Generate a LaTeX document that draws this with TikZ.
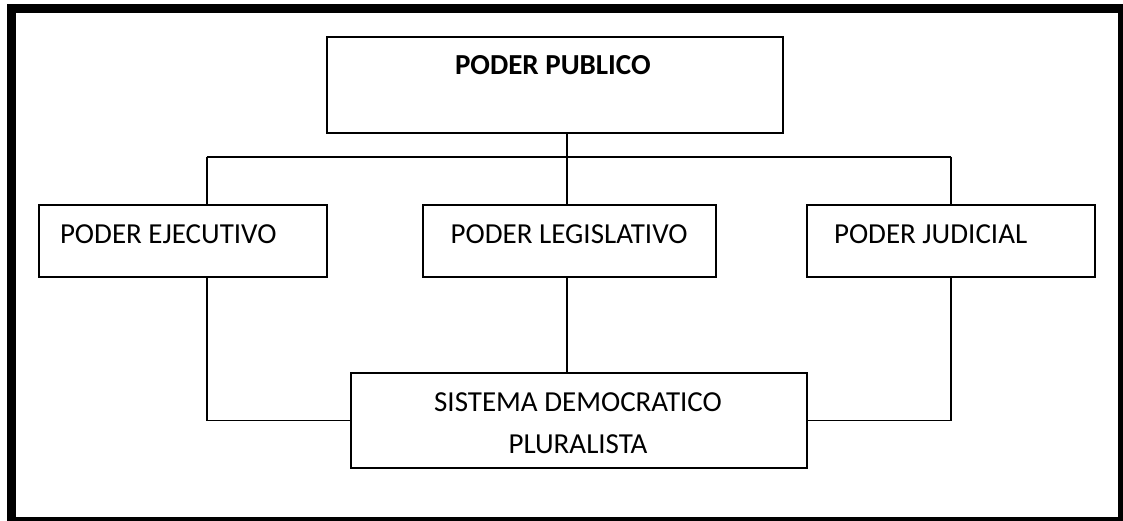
\documentclass[tikz,border=0pt]{standalone}
\usepackage{fontspec}
\setmainfont{Carlito}
\begin{document}
\begin{tikzpicture}[x=1pt,y=-1pt,
  boxstyle/.style={draw=black,line width=1.8pt,inner sep=0pt,outer sep=0pt,minimum width=#1},
  wire/.style={draw=black,line width=1.8pt},
  lbl/.style={inner sep=0pt,outer sep=0pt,anchor=base west,font=\fontsize{29}{35}\selectfont},
  clbl/.style={inner sep=0pt,outer sep=0pt,anchor=base,font=\fontsize{29}{35}\selectfont}]
\useasboundingbox (0,0) rectangle (1123,520);
\draw[line width=9pt] (11.5,8.5) rectangle (1122,521);
% boxes
\node[boxstyle=455.7pt,minimum height=96pt] (pub) at (554.85,84.7) {};
\node[boxstyle=288.3pt,minimum height=71.7pt] (ej) at (183.15,240.85) {};
\node[boxstyle=293.3pt,minimum height=72pt] (leg) at (569.35,241) {};
\node[boxstyle=288.3pt,minimum height=71.7pt] (jud) at (950.85,240.85) {};
\node[boxstyle=456pt,minimum height=95.6pt] (sis) at (578.7,420.5) {};
% texts
\node[lbl,font=\fontsize{29}{35}\selectfont\bfseries] (tpub) at (455,74) {PODER PUBLICO};
\node[lbl] (tej) at (60,243.3) {PODER EJECUTIVO};
\node[lbl] (tleg) at (450.7,243.3) {PODER LEGISLATIVO};
\node[lbl] (tjud) at (834,243.3) {PODER JUDICIAL};
\node[clbl] (tsis1) at (578,411.7) {SISTEMA DEMOCRATICO};
\node[clbl] (tsis2) at (578,453.3) {PLURALISTA};
% connectors
\coordinate (bus) at (567,156.7);
\coordinate (busL) at (206.7,156.7);
\coordinate (busR) at (951,156.7);
\draw[wire] (pub.south -| bus) -- (leg.north -| bus);
\draw[wire] (busL) -- (busR);
\draw[wire] (busL) -- (busL |- ej.north);
\draw[wire] (busR) -- (busR |- jud.north);
\draw[wire] (ej.south -| busL) |- (sis.west);
\draw[wire] (jud.south -| busR) |- (sis.east);
\draw[wire] (leg.south -| bus) -- (sis.north -| bus);
\end{tikzpicture}
\end{document}
